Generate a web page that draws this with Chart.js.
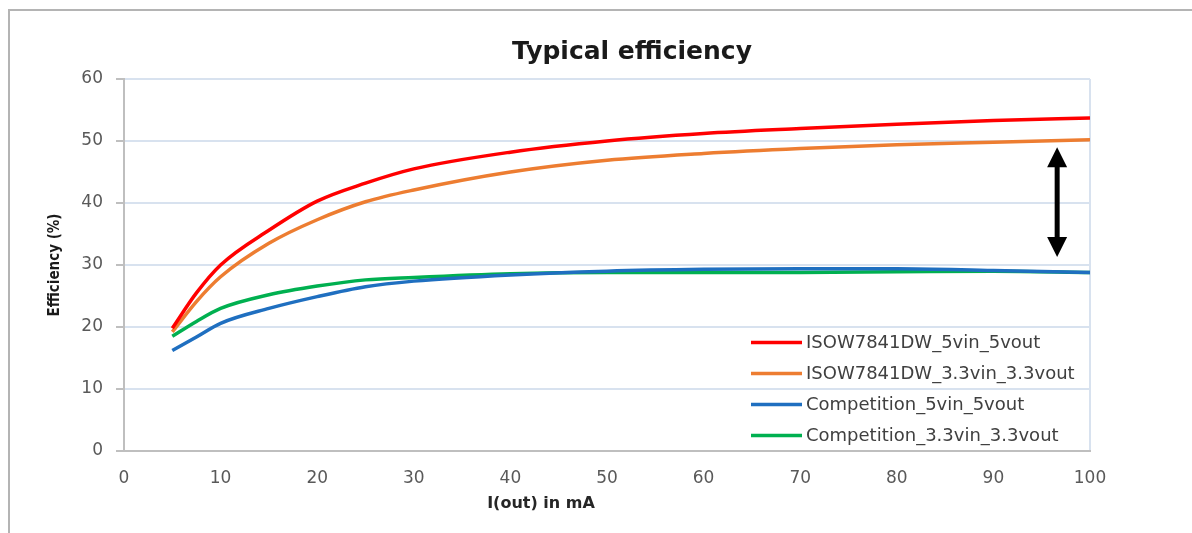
<!DOCTYPE html>
<html>
<head>
<meta charset="utf-8">
<script src="https://cdn.jsdelivr.net/npm/chart.js@4/dist/chart.umd.min.js"></script>
<style>
  html, body { margin: 0; padding: 0; background: #fff; }
  #wrap { position: relative; width: 1192px; height: 533px; }
  #frame { position: absolute; left: 8px; top: 9px; right: 0; bottom: 0;
           border-top: 2px solid #b4b4b4; border-left: 2px solid #b4b4b4; }
  #chart { position: absolute; left: 0; top: 0; }
</style>
</head>
<body>
<div id="wrap">
  <div id="frame"></div>
  <canvas id="chart" width="1192" height="533"></canvas>
</div>
<script>
var currentMa = [5, 7.5, 10, 15, 20, 25, 30, 40, 50, 60, 70, 80, 90, 100];

// Efficiency (%) per series
var isow5v = [19.8, 25.5, 30.0, 35.6, 40.3, 43.2, 45.5, 48.2, 50.0, 51.2, 52.0, 52.7, 53.3, 53.7];
var isow33v = [19.2, 24.1, 28.1, 33.5, 37.3, 40.2, 42.1, 45.0, 46.9, 48.0, 48.8, 49.4, 49.8, 50.2];
var comp5v = [16.2, 18.4, 20.6, 23.0, 24.9, 26.5, 27.4, 28.4, 29.0, 29.3, 29.4, 29.4, 29.1, 28.8];
var comp33v = [18.5, 20.9, 23.0, 25.2, 26.6, 27.6, 28.0, 28.6, 28.8, 28.8, 28.8, 28.9, 29.0, 28.8];

var seriesLabels = ['ISOW7841DW_5vin_5vout', 'ISOW7841DW_3.3vin_3.3vout',
                    'Competition_5vin_5vout', 'Competition_3.3vin_3.3vout'];
var seriesColors = ['#ff0000', '#ed7d31', '#1f6fc0', '#00b050'];
var seriesValues = [isow5v, isow33v, comp5v, comp33v];

// Tick labels
var xTicks = [0, 10, 20, 30, 40, 50, 60, 70, 80, 90, 100];
var yTicks = [0, 10, 20, 30, 40, 50, 60];

// Double arrow marking the gap (x in mA, y in %)
var arrowX = 96.6;
var arrowTop = 49.0;
var arrowBottom = 31.3;

var gridBlue = '#d8e2ef';
var axisGray = '#bfbfbf';

var datasets = [];
seriesValues.forEach(function (vals, i) {
  datasets.push({
    label: seriesLabels[i],
    borderColor: seriesColors[i],
    backgroundColor: seriesColors[i],
    borderWidth: 3.5,
    pointRadius: 0,
    cubicInterpolationMode: 'monotone',
    data: vals.map(function (v, k) { return { x: currentMa[k], y: v }; })
  });
});

// Draws the legend inside the plot, the arrow and the free-standing titles
var extras = {
  id: 'extras',
  afterDatasetsDraw: function (chart) {
    var ctx = chart.ctx;
    var area = chart.chartArea;
    var xs = chart.scales.x, ys = chart.scales.y;

    // arrow
    var ax = xs.getPixelForValue(arrowX);
    var ay1 = ys.getPixelForValue(arrowTop);
    var ay2 = ys.getPixelForValue(arrowBottom);
    ctx.save();
    ctx.strokeStyle = '#000';
    ctx.fillStyle = '#000';
    ctx.lineWidth = 5;
    ctx.beginPath();
    ctx.moveTo(ax, ay1 + 15);
    ctx.lineTo(ax, ay2 - 15);
    ctx.stroke();
    ctx.beginPath();
    ctx.moveTo(ax, ay1);
    ctx.lineTo(ax - 10, ay1 + 20);
    ctx.lineTo(ax + 10, ay1 + 20);
    ctx.closePath();
    ctx.fill();
    ctx.beginPath();
    ctx.moveTo(ax, ay2);
    ctx.lineTo(ax - 10, ay2 - 20);
    ctx.lineTo(ax + 10, ay2 - 20);
    ctx.closePath();
    ctx.fill();
    ctx.restore();

    // legend
    ctx.save();
    ctx.font = '18px "DejaVu Sans"';
    ctx.textBaseline = 'middle';
    ctx.textAlign = 'left';
    chart.data.datasets.forEach(function (ds, i) {
      var ly = area.bottom - 108.5 + i * 31;
      var lx = area.right - 339;
      ctx.strokeStyle = ds.borderColor;
      ctx.lineWidth = 3.5;
      ctx.beginPath();
      ctx.moveTo(lx, ly);
      ctx.lineTo(lx + 51, ly);
      ctx.stroke();
      ctx.fillStyle = '#404040';
      ctx.fillText(ds.label, lx + 55, ly + 1);
    });
    ctx.restore();
  },
  afterDraw: function (chart) {
    var ctx = chart.ctx;
    var area = chart.chartArea;
    ctx.save();
    ctx.textAlign = 'center';
    ctx.textBaseline = 'middle';
    ctx.fillStyle = '#1a1a1a';
    ctx.font = 'bold 25px "DejaVu Sans"';
    ctx.fillText('Typical efficiency', area.left + 508, 52);
    ctx.fillStyle = '#262626';
    ctx.font = 'bold 16px "DejaVu Sans"';
    ctx.fillText('I(out) in mA', area.left + 417, area.bottom + 53);
    ctx.restore();
  }
};

var chart = new Chart(document.getElementById('chart').getContext('2d'), {
  type: 'line',
  data: { datasets: datasets },
  plugins: [extras],
  options: {
    responsive: false,
    animation: false,
    layout: { padding: { left: 0, right: 102, top: 79, bottom: 0 } },
    plugins: {
      legend: { display: false },
      title: { display: false },
      tooltip: { enabled: false }
    },
    scales: {
      x: {
        type: 'linear',
        min: 0,
        max: 100,
        afterBuildTicks: function (scale) {
          scale.ticks = xTicks.map(function (v) { return { value: v }; });
        },
        afterFit: function (scale) { scale.height = 82; },
        grid: {
          drawTicks: false,
          lineWidth: 2,
          color: function (c) { return c.tick && c.tick.value === 100 ? gridBlue : 'rgba(0,0,0,0)'; }
        },
        border: { color: axisGray, width: 2 },
        ticks: {
          padding: 17,
          color: '#595959',
          font: { family: 'DejaVu Sans', size: 17 }
        }
      },
      y: {
        min: 0,
        max: 60,
        afterBuildTicks: function (scale) {
          scale.ticks = yTicks.map(function (v) { return { value: v }; });
        },
        afterFit: function (scale) { scale.width = 124; },
        grid: {
          color: gridBlue,
          lineWidth: 2,
          tickLength: 8,
          tickColor: axisGray,
          tickWidth: 2
        },
        border: { color: axisGray, width: 2 },
        ticks: {
          padding: 13,
          color: '#595959',
          font: { family: 'DejaVu Sans', size: 17 }
        },
        title: {
          display: true,
          text: 'Efficiency (%)',
          color: '#1a1a1a',
          padding: { top: 46, bottom: 0 },
          font: { family: 'DejaVu Sans Condensed', size: 15, weight: 'bold' }
        }
      }
    }
  }
});
</script>
</body>
</html>
